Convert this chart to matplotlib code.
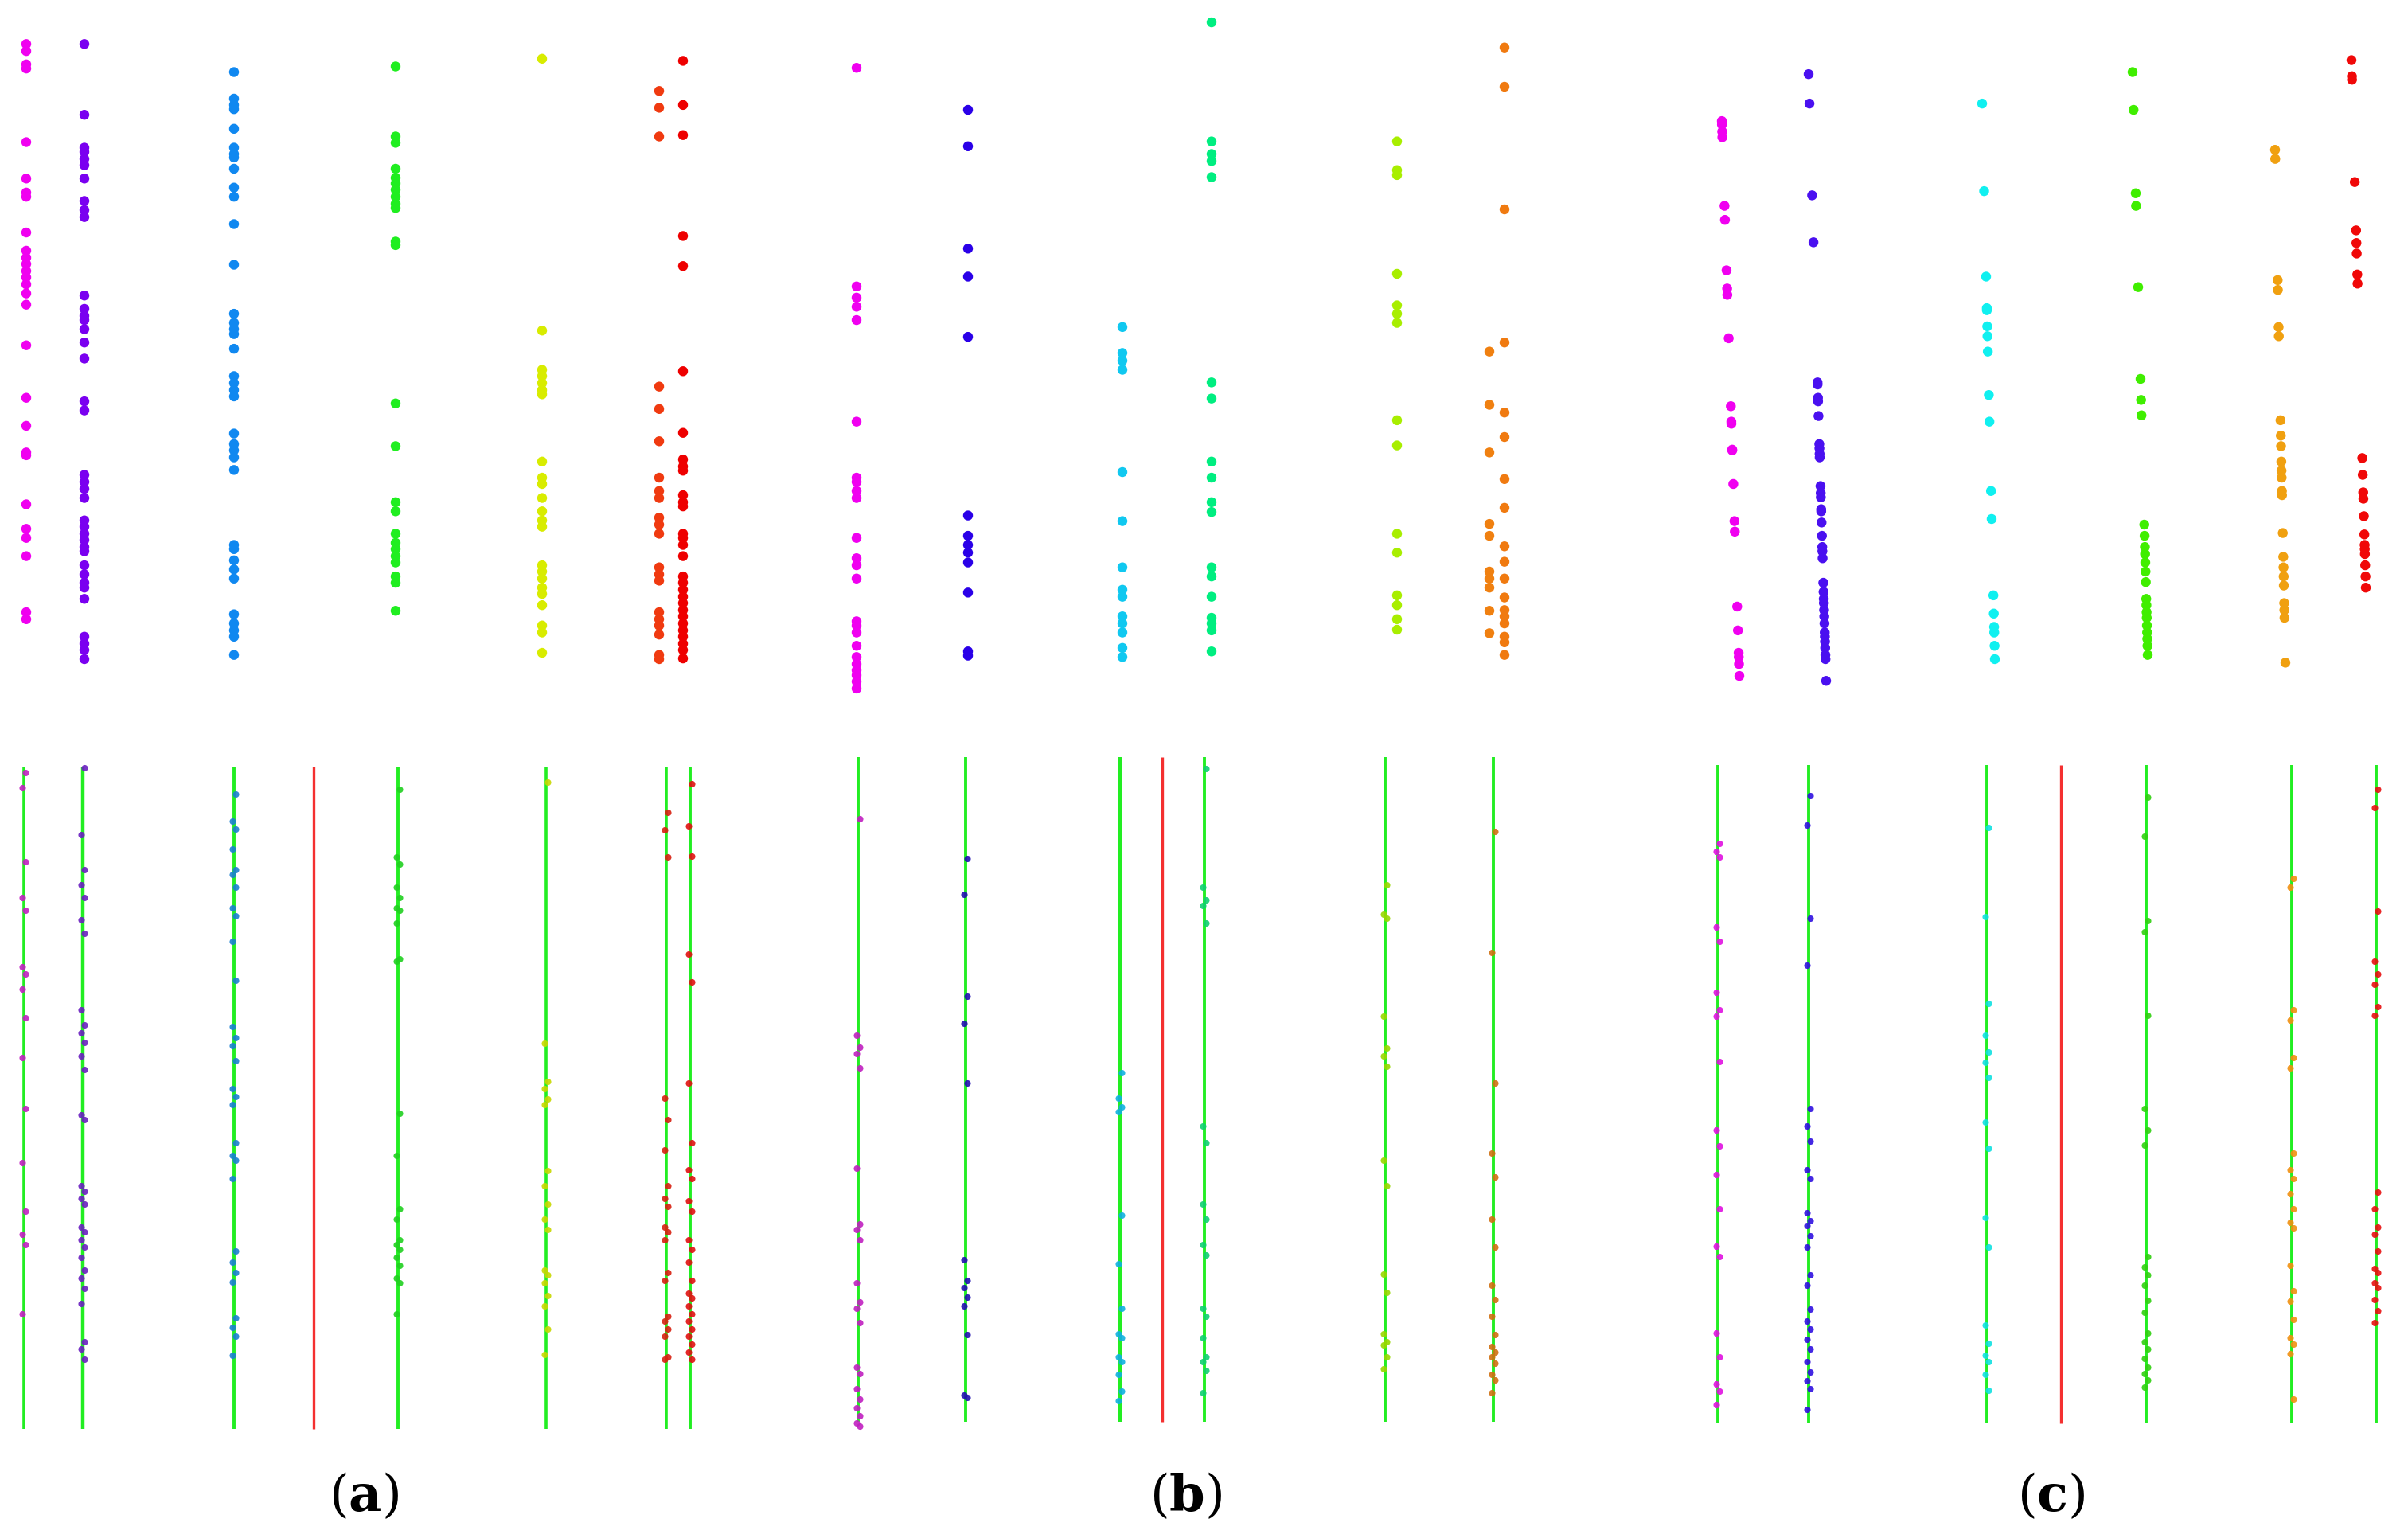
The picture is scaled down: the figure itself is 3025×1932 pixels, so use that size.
import numpy as np
import matplotlib
matplotlib.use("Agg")
from matplotlib import pyplot as plt

# ---- top row: coloured point columns (x = column position in px, y = height, 0..1000 units) ----
a_top_x = [33, 106, 294, 497, 681, 828, 858]
a_top_colors = ['#f000f0', '#7a00f0', '#1088f0', '#20ee20', '#d8ec00', '#f03a10', '#ee0000']
a_top_y = [
    [64, 74, 93, 99, 204, 256, 276, 282, 333, 359, 369, 378, 388, 397, 407, 420, 436, 494, 569, 609, 647, 651, 721, 756, 769, 795, 875, 885],
    [64, 165, 212, 218, 228, 237, 256, 288, 301, 311, 423, 442, 452, 458, 471, 490, 513, 574, 587, 679, 689, 699, 712, 744, 753, 763, 772, 782, 788, 808, 821, 833, 840, 856, 910, 920, 929, 942],
    [104, 142, 151, 157, 185, 212, 221, 226, 242, 269, 282, 321, 379, 449, 462, 471, 478, 499, 538, 548, 558, 567, 620, 635, 644, 654, 672, 779, 785, 801, 814, 827, 878, 891, 901, 910, 936],
    [96, 196, 205, 242, 255, 263, 272, 282, 292, 298, 346, 351, 577, 638, 718, 731, 763, 776, 785, 795, 804, 824, 833, 873],
    [85, 473, 529, 538, 548, 558, 564, 660, 683, 692, 712, 731, 744, 753, 808, 817, 827, 840, 849, 865, 894, 904, 933],
    [131, 155, 196, 553, 585, 631, 683, 702, 712, 740, 750, 763, 811, 821, 830, 875, 885, 894, 907, 936, 942],
    [88, 151, 194, 338, 381, 531, 619, 657, 667, 673, 708, 718, 724, 763, 769, 779, 795, 824, 833, 843, 853, 862, 872, 881, 891, 901, 910, 920, 929, 941],
]

b_top_x = [1076, 1216, 1410, 1522, 1755, 1871, 1890]
b_top_colors = ['#f000f0', '#2a00e8', '#10c8f0', '#00ee80', '#a8ee00', '#f08010', '#f07a10']
b_top_y = [
    [98, 410, 426, 439, 458, 603, 683, 689, 702, 712, 769, 798, 808, 827, 888, 894, 904, 923, 939, 949, 958, 965, 974, 984],
    [158, 210, 356, 396, 482, 737, 766, 779, 790, 804, 847, 931, 937],
    [468, 505, 516, 529, 675, 745, 811, 843, 853, 881, 891, 904, 926, 939],
    [33, 203, 221, 231, 254, 547, 570, 660, 683, 718, 732, 811, 824, 853, 883, 891, 901, 931],
    [203, 244, 251, 392, 437, 449, 462, 601, 637, 763, 790, 851, 865, 885, 900],
    [503, 579, 647, 749, 766, 817, 827, 840, 873, 905],
    [69, 125, 300, 490, 590, 625, 685, 726, 781, 803, 827, 854, 872, 881, 891, 910, 918, 936],
]

# panel (c) columns lean slightly: x at the top point and at the bottom point
c_top_x0 = [2163, 2272, 2490, 2679, 2858, 2954]
c_top_x1 = [2185, 2294, 2506, 2698, 2871, 2972]
c_top_colors = ['#f000f0', '#4a10f0', '#10f0f0', '#40ee00', '#f0a010', '#f00808']
c_top_y = [
    [174, 179, 189, 197, 295, 315, 387, 413, 422, 484, 581, 603, 606, 643, 644, 692, 745, 760, 867, 901, 933, 939, 949, 966],
    [107, 149, 280, 347, 547, 550, 569, 574, 595, 635, 641, 649, 654, 695, 705, 711, 728, 731, 747, 766, 782, 788, 798, 833, 846, 856, 862, 872, 881, 891, 904, 910, 917, 926, 936, 942, 973],
    [149, 274, 396, 441, 444, 467, 481, 503, 565, 603, 702, 742, 851, 877, 896, 904, 923, 942],
    [104, 158, 277, 295, 411, 542, 572, 594, 750, 766, 782, 792, 804, 817, 832, 856, 865, 875, 883, 894, 904, 913, 923, 936],
    [215, 228, 401, 415, 468, 481, 601, 623, 638, 660, 673, 683, 702, 708, 762, 796, 811, 824, 837, 862, 872, 883, 947],
    [87, 110, 115, 261, 330, 348, 363, 393, 406, 655, 679, 704, 713, 738, 764, 779, 785, 792, 808, 824, 840],
]

# ---- bottom row: fitted lines and the points projected on them (px) ----
a_lines_x = [30, 104, 294, 500, 686, 837, 867]
a_red_x = [394]
a_line_span = (964, 1796)
a_line_colors = ['#c020c0', '#6a20c0', '#1a80d0', '#20d020', '#c8d800', '#d82010', '#e01010']
a_line_pts = [
    [972, 991, 1084, 1129, 1145, 1216, 1225, 1244, 1280, 1330, 1394, 1462, 1523, 1552, 1565, 1652],
    [966, 1050, 1094, 1113, 1129, 1157, 1174, 1270, 1289, 1299, 1311, 1328, 1345, 1402, 1408, 1491, 1498, 1507, 1514, 1543, 1549, 1559, 1568, 1581, 1597, 1607, 1620, 1639, 1687, 1696, 1709],
    [999, 1033, 1043, 1068, 1094, 1100, 1116, 1142, 1152, 1184, 1233, 1291, 1305, 1315, 1334, 1369, 1379, 1389, 1437, 1453, 1459, 1482, 1573, 1587, 1600, 1612, 1657, 1669, 1680, 1704],
    [993, 1078, 1087, 1116, 1129, 1142, 1145, 1161, 1206, 1209, 1400, 1453, 1520, 1533, 1559, 1565, 1571, 1581, 1591, 1607, 1613, 1652],
    [984, 1312, 1360, 1369, 1382, 1389, 1472, 1491, 1514, 1533, 1546, 1597, 1603, 1613, 1629, 1642, 1671, 1703],
    [1022, 1044, 1078, 1381, 1408, 1446, 1491, 1507, 1517, 1543, 1549, 1559, 1600, 1610, 1655, 1661, 1671, 1680, 1706, 1709],
    [986, 1039, 1077, 1200, 1235, 1362, 1437, 1471, 1482, 1510, 1523, 1559, 1571, 1587, 1610, 1626, 1632, 1642, 1652, 1661, 1671, 1680, 1690, 1700, 1709],
]

b_lines_x = [1078, 1213, 1407, 1513, 1740, 1876]
b_red_x = [1460]
b_line_span = (952, 1787)
b_line_colors = ['#c020c0', '#2010b0', '#10b0e0', '#10d070', '#98d800', '#d07010']
b_line_pts = [
    [1030, 1302, 1317, 1325, 1343, 1469, 1539, 1546, 1559, 1613, 1637, 1645, 1663, 1719, 1727, 1746, 1759, 1770, 1780, 1789, 1793],
    [1080, 1125, 1253, 1287, 1362, 1584, 1610, 1619, 1631, 1642, 1678, 1754, 1757],
    [1349, 1381, 1392, 1398, 1528, 1589, 1645, 1677, 1682, 1706, 1712, 1728, 1749, 1761],
    [967, 1116, 1132, 1139, 1161, 1416, 1437, 1514, 1533, 1565, 1578, 1645, 1655, 1682, 1706, 1712, 1723, 1751],
    [1113, 1150, 1155, 1278, 1318, 1328, 1341, 1459, 1491, 1602, 1625, 1677, 1687, 1691, 1706, 1721],
    [1046, 1198, 1362, 1450, 1480, 1533, 1568, 1616, 1634, 1655, 1678, 1693, 1700, 1706, 1714, 1728, 1735, 1751],
]

c_lines_x = [2158, 2272, 2496, 2696, 2879, 2985]
c_red_x = [2589]
c_line_span = (962, 1789)
c_line_colors = ['#e010e0', '#3010e0', '#10e0e0', '#30d010', '#f09010', '#e81010']
c_line_pts = [
    [1061, 1071, 1078, 1166, 1184, 1248, 1270, 1278, 1335, 1421, 1441, 1477, 1520, 1567, 1580, 1676, 1706, 1740, 1749, 1766],
    [1001, 1038, 1155, 1214, 1394, 1416, 1435, 1471, 1482, 1525, 1535, 1541, 1554, 1568, 1603, 1616, 1646, 1661, 1671, 1684, 1696, 1712, 1725, 1736, 1746, 1772],
    [1041, 1153, 1262, 1302, 1323, 1336, 1355, 1411, 1444, 1531, 1568, 1666, 1689, 1704, 1712, 1728, 1748],
    [1003, 1052, 1158, 1172, 1277, 1394, 1421, 1440, 1580, 1593, 1603, 1616, 1635, 1650, 1676, 1687, 1696, 1708, 1719, 1727, 1735, 1744],
    [1105, 1116, 1270, 1283, 1330, 1343, 1450, 1471, 1482, 1501, 1520, 1537, 1544, 1591, 1623, 1636, 1659, 1682, 1690, 1702, 1759],
    [993, 1016, 1146, 1209, 1225, 1238, 1266, 1277, 1499, 1520, 1543, 1552, 1573, 1595, 1600, 1613, 1619, 1634, 1648, 1663],
]

panel_labels = ['a', 'b', 'c']
label_x = [457, 1490, 2577]
label_y = 1880

W, H = 3025, 1933
TOP_H = 880  # pixel height of the point-cloud row

fig = plt.figure(figsize=(W / 100, H / 100), dpi=100)

# bottom row + labels: full-figure axes in pixel units
ax = fig.add_axes([0, 0, 1, 1])
ax.set_xlim(0, W)
ax.set_ylim(H, 0)
ax.axis('off')

# top row: its own axes, heights on a 0..1000 scale
axt = fig.add_axes([0, 1 - TOP_H / H, 1, TOP_H / H])
axt.set_xlim(0, W)
axt.set_ylim(1000, 0)
axt.axis('off')

TOP_S = 80
BOT_S = 34


def draw_top(xs, ys, colors):
    for x, y, c in zip(xs, ys, colors):
        axt.scatter(np.full(len(y), x), y, s=TOP_S, color=c, edgecolors='none', zorder=3)


def draw_bottom(xs, reds, span, pts, colors, widths=None):
    for i, (x, y, c) in enumerate(zip(xs, pts, colors)):
        lw = widths[i] if widths else 2.8
        ax.plot([x, x], span, color='#22ee22', lw=lw, solid_capstyle='butt', zorder=2)
        # points sit just off the line, alternating sides
        off = np.where(np.arange(len(y)) % 2 == 0, 2.5, -1.5)
        ax.scatter(x + off, y, s=BOT_S, color=c, alpha=0.9, edgecolors='none', zorder=3)
    for x in reds:
        ax.plot([x, x], span, color='#f43030', lw=2.4, solid_capstyle='butt', zorder=2)


draw_top(a_top_x, a_top_y, a_top_colors)
draw_top(b_top_x, b_top_y, b_top_colors)

# panel (c): each column leans a little to the right going down
for x0, x1, y, c in zip(c_top_x0, c_top_x1, c_top_y, c_top_colors):
    y = np.array(y)
    t = (y - y.min()) / (y.max() - y.min())
    axt.scatter(x0 + (x1 - x0) * t, y, s=TOP_S, color=c, edgecolors='none', zorder=3)

draw_bottom(a_lines_x, a_red_x, a_line_span, a_line_pts, a_line_colors,
            widths=[2.6, 3.2, 2.8, 2.8, 2.6, 2.6, 2.8])
draw_bottom(b_lines_x, b_red_x, b_line_span, b_line_pts, b_line_colors,
            widths=[2.8, 2.8, 4.2, 2.8, 2.8, 2.8])
draw_bottom(c_lines_x, c_red_x, c_line_span, c_line_pts, c_line_colors)

for lab, x in zip(panel_labels, label_x):
    ax.text(x, label_y, '(' + r'$\mathbf{' + lab + '}$' + ')', ha='center', va='center',
            fontsize=46, family='DejaVu Serif', math_fontfamily='dejavuserif')

fig.savefig('out.png', dpi=100)
